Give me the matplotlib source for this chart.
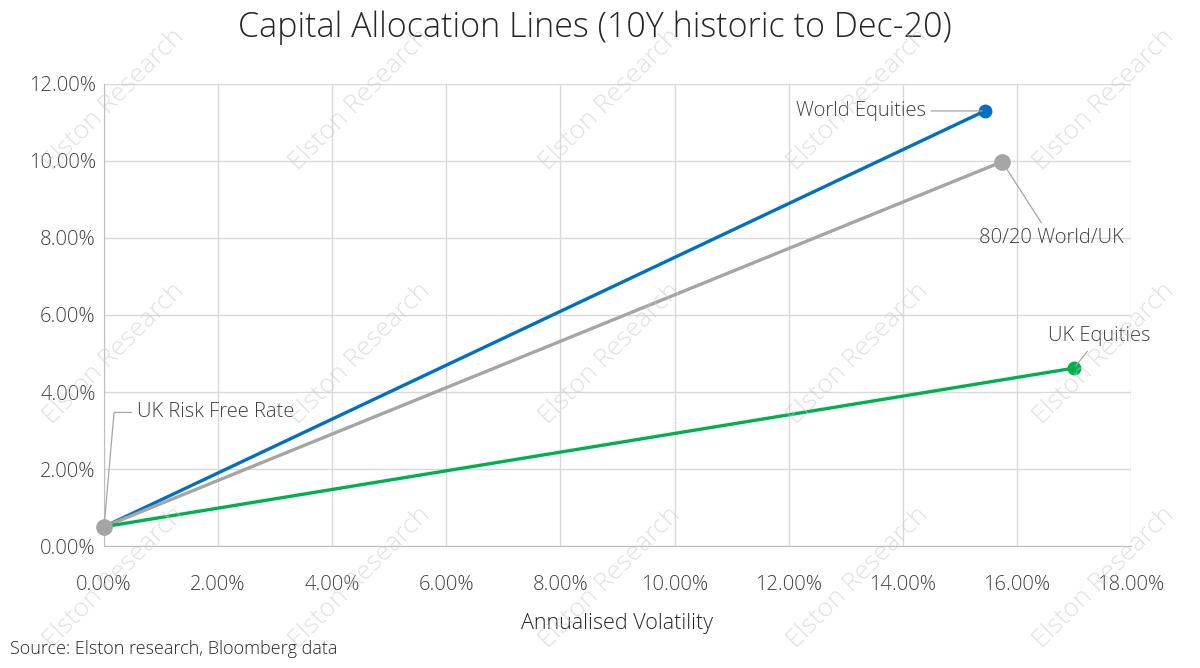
import matplotlib.pyplot as plt
from matplotlib.ticker import FuncFormatter

plt.rcParams['font.family'] = ['Open Sans', 'DejaVu Sans']
plt.rcParams['font.weight'] = 'light'
plt.rcParams['axes.labelweight'] = 'light'

# risk free point and the three portfolios (annualised volatility %, return %)
rf_vol = 0.0
rf_ret = 0.5
names = ['World Equities', '80/20 World/UK', 'UK Equities']
vols = [15.44, 15.74, 17.0]
rets = [11.30, 9.98, 4.62]
colors = ['#0070C0', '#A5A5A5', '#00B050']
marker_sizes = [9, 11, 9]

x_ticks = [0, 2, 4, 6, 8, 10, 12, 14, 16, 18]
y_ticks = [0, 2, 4, 6, 8, 10, 12]

fig = plt.figure(figsize=(12, 6.68), dpi=100)
ax = fig.add_axes([0.0867, 0.1826, 0.8558, 0.6917])

for v, r, c, ms in zip(vols, rets, colors, marker_sizes):
    ax.plot([rf_vol, v], [rf_ret, r], color=c, lw=2.4, zorder=3,
            solid_capstyle='round')
    ax.plot(v, r, 'o', color=c, ms=ms, zorder=4)
ax.plot(rf_vol, rf_ret, 'o', color='#A5A5A5', ms=11, zorder=5, clip_on=False)

ax.set_xlim(0, 18)
ax.set_ylim(0, 12)
ax.set_xticks(x_ticks)
ax.set_yticks(y_ticks)
pct = FuncFormatter(lambda v, p: f'{v:.2f}%')
ax.xaxis.set_major_formatter(pct)
ax.yaxis.set_major_formatter(pct)
ax.tick_params(length=0, labelsize=14.5, colors='#404040', pad=6)
ax.tick_params(axis='x', pad=21)
ax.grid(True, color='#D9D9D9', lw=1)
ax.set_axisbelow(True)
for s in ['top', 'right']:
    ax.spines[s].set_visible(False)
for s in ['left', 'bottom']:
    ax.spines[s].set_color('#BFBFBF')

ax.set_xlabel('Annualised Volatility', fontsize=15.5, color='#262626', labelpad=13)
fig.text(0.496, 0.958, 'Capital Allocation Lines (10Y historic to Dec-20)',
         ha='center', va='center', fontsize=24.5, color='#262626')
fig.text(0.008, 0.015, 'Source: Elston research, Bloomberg data',
         ha='left', va='bottom', fontsize=13, color='#262626')

# data labels with leader lines
lbl = dict(fontsize=14.5, color='#404040', zorder=6)
lead = dict(arrowstyle='-', color='#A6A6A6', lw=0.9)
ax.annotate(names[0], xy=(vols[0], rets[0]), xytext=(14.4, rets[0]),
            ha='right', va='center', arrowprops=lead, **lbl)
ax.annotate(names[1], xy=(vols[1], rets[1]), xytext=(16.6, 8.0),
            ha='center', va='center', arrowprops=lead, **lbl)
ax.annotate(names[2], xy=(vols[2], rets[2]), xytext=(17.45, 5.45),
            ha='center', va='center', arrowprops=lead, **lbl)
ax.annotate('UK Risk Free Rate', xy=(rf_vol, rf_ret), xytext=(0.58, 3.47),
            ha='left', va='center', annotation_clip=False,
            arrowprops=dict(arrowstyle='-', color='#A6A6A6', lw=0.9,
                            connectionstyle='angle,angleA=0,angleB=85,rad=0'),
            **lbl)

# watermark
for wy in [0.85, 0.47, 0.135]:
    for wx in [0.095, 0.30, 0.508, 0.715, 0.92]:
        fig.text(wx, wy, 'Elston Research', rotation=45, ha='center',
                 va='center', fontsize=19, color='#C8C8C8', alpha=0.55,
                 zorder=10)

fig.savefig('out.png', dpi=100)
